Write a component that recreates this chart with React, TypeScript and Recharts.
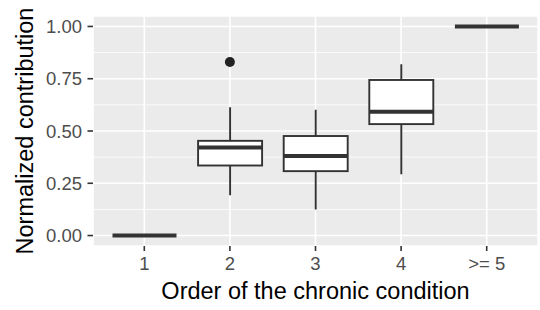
import React from 'react';
import { ComposedChart, Bar, Line, XAxis, YAxis, CartesianGrid } from 'recharts';

const CATEGORIES = ['1', '2', '3', '4', '>= 5'];
const WHISKER_LOW = [0, 0.193, 0.125, 0.293, 1];
const Q1 = [0, 0.335, 0.308, 0.533, 1];
const MEDIAN = [0, 0.421, 0.38, 0.592, 1];
const Q3 = [0, 0.453, 0.476, 0.744, 1];
const WHISKER_HIGH = [0, 0.613, 0.602, 0.819, 1];
const OUTLIERS: (number | null)[] = [null, 0.83, null, null, null];

const Y_TICKS = [0, 0.25, 0.5, 0.75, 1];
const Y_MINOR = [0.125, 0.375, 0.625, 0.875];

const data = CATEGORIES.map((c, i) => ({
  name: c,
  lo: WHISKER_LOW[i],
  q1: Q1[i],
  med: MEDIAN[i],
  q3: Q3[i],
  hi: WHISKER_HIGH[i],
  outlier: OUTLIERS[i],
}));

const FONT = '"Liberation Sans", Arial, Helvetica, sans-serif';
const DARK = '#333333';

const BoxShape = (props: any) => {
  const { x, y, width, height, payload } = props;
  if (x == null || y == null || !payload) return <g />;
  const h = height || 0;
  const top = Math.min(y, y + h);
  const bot = Math.max(y, y + h);
  const span = payload.hi - payload.lo;
  const px = (v: number) => (span === 0 ? top : top + ((payload.hi - v) / span) * (bot - top));
  const cx = x + width / 2;
  const yq1 = px(payload.q1);
  const yq3 = px(payload.q3);
  const ym = px(payload.med);
  return (
    <g>
      <line x1={cx} x2={cx} y1={top} y2={yq3} stroke={DARK} strokeWidth={1.9} />
      <line x1={cx} x2={cx} y1={yq1} y2={bot} stroke={DARK} strokeWidth={1.9} />
      <rect x={x} y={yq3} width={width} height={yq1 - yq3} fill="#ffffff" stroke={DARK} strokeWidth={1.9} />
      <line x1={x} x2={x + width} y1={ym} y2={ym} stroke={DARK} strokeWidth={4} strokeLinecap="butt" />
    </g>
  );
};

const OutlierDot = (props: any) => {
  const { cx, cy, payload, index } = props;
  if (!payload || payload.outlier == null || cx == null || cy == null) return <g key={`o-${index}`} />;
  return <circle key={`o-${index}`} cx={cx} cy={cy} r={5} fill="#222222" stroke="none" />;
};

const XTitle = (props: any) => {
  const vb = props.viewBox || {};
  return (
    <text
      x={vb.x + vb.width / 2}
      y={vb.y + 53}
      textAnchor="middle"
      fill="#000000"
      fontSize={23.5}
      fontFamily={FONT}
    >
      Order of the chronic condition
    </text>
  );
};

const YTitle = (props: any) => {
  const vb = props.viewBox || {};
  const cx = 33;
  const cy = vb.y + vb.height / 2;
  return (
    <text
      x={cx}
      y={cy}
      transform={`rotate(-90, ${cx}, ${cy})`}
      textAnchor="middle"
      fill="#000000"
      fontSize={23.5}
      fontFamily={FONT}
    >
      Normalized contribution
    </text>
  );
};

export default function App() {
  return (
    <div style={{ position: 'absolute', left: 0, top: 0, width: 540, height: 310, background: '#fff' }}>
      <ComposedChart
        width={540}
        height={310}
        data={data}
        margin={{ top: 16, right: 2, bottom: 0, left: 0 }}
        style={{ fontFamily: FONT }}
      >
        <CartesianGrid fill="#EBEBEB" stroke="#ffffff" strokeWidth={1.6} vertical={true} horizontal={true} />
        <CartesianGrid
          fill="none"
          stroke="#ffffff"
          strokeWidth={0.8}
          vertical={false}
          horizontalValues={Y_MINOR}
        />
        <XAxis
          dataKey="name"
          type="category"
          height={64}
          padding={{ left: 8.5, right: 8.5 }}
          axisLine={false}
          tickLine={{ stroke: DARK, strokeWidth: 1.6 }}
          tickSize={5}
          tickMargin={6}
          tick={{ fill: '#4D4D4D', fontSize: 18.5, fontFamily: FONT }}
          interval={0}
          label={<XTitle />}
        />
        <YAxis
          type="number"
          domain={[-0.05, 1.05]}
          ticks={Y_TICKS}
          allowDataOverflow={true}
          width={93}
          axisLine={false}
          tickLine={{ stroke: DARK, strokeWidth: 1.6 }}
          tickSize={5.5}
          tickMargin={5.5}
          tickFormatter={(v: number) => v.toFixed(2)}
          tick={{ fill: '#4D4D4D', fontSize: 18.5, fontFamily: FONT }}
          label={<YTitle />}
        />
        <Bar
          dataKey={(d: any) => [d.lo, d.hi]}
          barSize={64}
          shape={BoxShape}
          isAnimationActive={false}
          legendType="none"
        />
        <Line
          dataKey="outlier"
          stroke="none"
          dot={OutlierDot}
          activeDot={false}
          isAnimationActive={false}
          legendType="none"
          connectNulls={false}
        />
      </ComposedChart>
    </div>
  );
}
